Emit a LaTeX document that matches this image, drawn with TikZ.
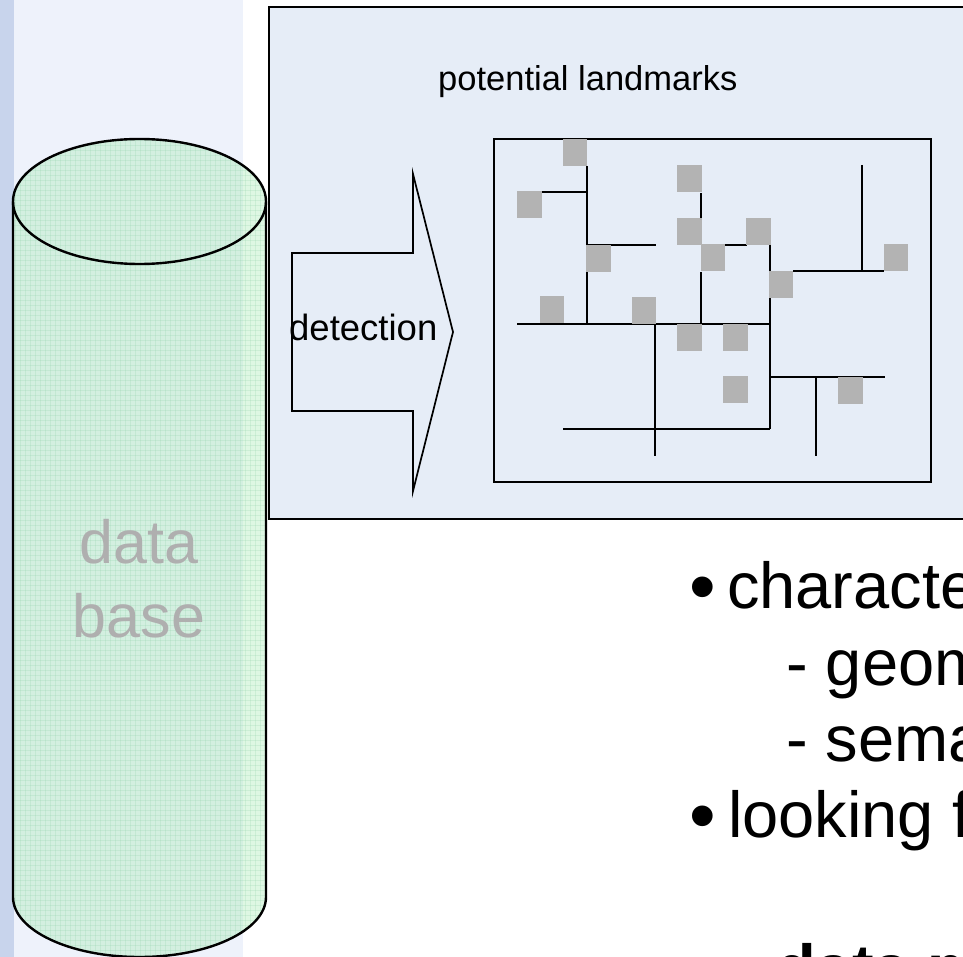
\documentclass[tikz,border=0pt]{standalone}
\usepackage{fontspec}
\setmainfont{Liberation Sans}
\definecolor{stripdark}{HTML}{C8D4EC}
\definecolor{striplight}{HTML}{EEF2FB}
\definecolor{boxfill}{HTML}{E6EDF7}
\definecolor{cylfill}{RGB}{176,235,189}
\definecolor{gridc}{HTML}{8ED0A6}
\definecolor{lmgray}{HTML}{B3B3B3}
\definecolor{dbgray}{HTML}{AFAFAF}
\tikzset{
  frame/.style={draw=black, line width=2.4pt},
  street/.style={draw=black, line width=2.2pt},
  lm/.style={fill=lmgray, draw=none, inner sep=0pt, outer sep=0pt, minimum width=24.5pt, minimum height=27pt},
  bigtxt/.style={font=\fontsize{65}{78}\selectfont, anchor=base west, inner sep=0pt},
  bullettxt/.style={font=\fontsize{76}{90}\selectfont, anchor=base west, inner sep=0pt},
  boldtxt/.style={font=\fontsize{65}{78}\selectfont\bfseries, anchor=base west, inner sep=0pt},
  dbtxt/.style={font=\fontsize{61}{74}\selectfont, text=dbgray, anchor=base, inner sep=0pt},
  lbltxt/.style={font=\fontsize{34.5}{40}\selectfont, anchor=base west, inner sep=0pt},
  dettxt/.style={font=\fontsize{36.5}{42}\selectfont, anchor=base west, inner sep=0pt},
  gridline/.style={draw=gridc, line width=0.6pt, opacity=0.22},
}
\begin{document}
\begin{tikzpicture}[x=1pt,y=-1pt]
\useasboundingbox (0,0) rectangle (963,957);
\clip (0,0) rectangle (963,957);
% background strips
\fill[stripdark] (0,0) rectangle (14,957);
\fill[striplight] (14,0) rectangle (243,957);
% cylinder (data base)
\def\cylpath{(13,201.5) -- (13,897) .. controls (13,930.1) and (69.6,957) .. (139.5,957) .. controls (209.4,957) and (266,930.1) .. (266,897) -- (266,201.5) .. controls (266,167) and (209.4,139) .. (139.5,139) .. controls (69.6,139) and (13,167) .. (13,201.5) -- cycle}
\fill[cylfill, fill opacity=0.42] \cylpath;
\begin{scope}
  \clip \cylpath;
  \foreach \gx in {15,20,...,265} {\draw[gridline] (\gx,139) -- (\gx,957);}
  \foreach \gy in {140,145,...,955} {\draw[gridline] (13,\gy) -- (266,\gy);}
\end{scope}
\draw[black, line width=2.4pt] (13,201.5) -- (13,897) .. controls (13,930.1) and (69.6,957) .. (139.5,957) .. controls (209.4,957) and (266,930.1) .. (266,897) -- (266,201.5);
\draw[black, line width=2.4pt] (139.5,201.5) ellipse [x radius=126.5pt, y radius=62.5pt];
\node[dbtxt] (db1) at (139,563) {data};
\node[dbtxt] (db2) at (139,637) {base};
% big box
\path[frame, fill=boxfill] (269,7) rectangle (1000,519);
\node[lbltxt] (pl) at (438,91) {potential landmarks};
% detection arrow
\draw[black, line width=1.7pt, line join=miter] (292,253) -- (413,253) -- (413,174) -- (453,332) -- (413,491) -- (413,411) -- (292,411) -- cycle;
\node[dettxt] (det) at (289,341) {detection};
% inner map box
\draw[frame] (494,139) rectangle (931,482);
% streets
\draw[street] (587,166) -- (587,324);
\draw[street] (542,192) -- (587,192);
\draw[street] (587,245) -- (656,245);
\draw[street] (517,324) -- (770,324);
\draw[street] (701,193) -- (701,218);
\draw[street] (701,272) -- (701,324);
\draw[street] (725,245) -- (747,245);
\draw[street] (770,245) -- (770,429);
\draw[street] (793,271) -- (884,271);
\draw[street] (862,165) -- (862,271);
\draw[street] (655,324) -- (655,456);
\draw[street] (563,429) -- (770,429);
\draw[street] (770,377) -- (885,377);
\draw[street] (816,377) -- (816,456);
% landmarks
\node[lm] (s1) at (575,152.5) {};
\node[lm] (s2) at (529.5,205) {};
\node[lm] (s3) at (598.5,258.5) {};
\node[lm] (s4) at (552,310) {};
\node[lm] (s5) at (644,310.5) {};
\node[lm] (s6) at (689.5,179) {};
\node[lm] (s7) at (689.5,231.5) {};
\node[lm] (s8) at (713,257.5) {};
\node[lm] (s9) at (758.5,231.5) {};
\node[lm] (s10) at (781,284.5) {};
\node[lm] (s11) at (896,258) {};
\node[lm] (s12) at (689.5,337.5) {};
\node[lm] (s13) at (735.5,337.5) {};
\node[lm] (s14) at (735.5,389.5) {};
\node[lm] (s15) at (850.5,390) {};
% bullet text
\node[bullettxt] (b1) at (689,612) {•};
\node[bigtxt] (t1) at (727,608) {characte};
\node[bigtxt] (t2) at (786,685) {- geom};
\node[bigtxt] (t3) at (786,761) {- sema};
\node[bullettxt] (b4) at (689,841) {•};
\node[bigtxt] (t4) at (728,837) {looking f};
\node[boldtxt] (t5) at (776,990) {data m};
\end{tikzpicture}
\end{document}
